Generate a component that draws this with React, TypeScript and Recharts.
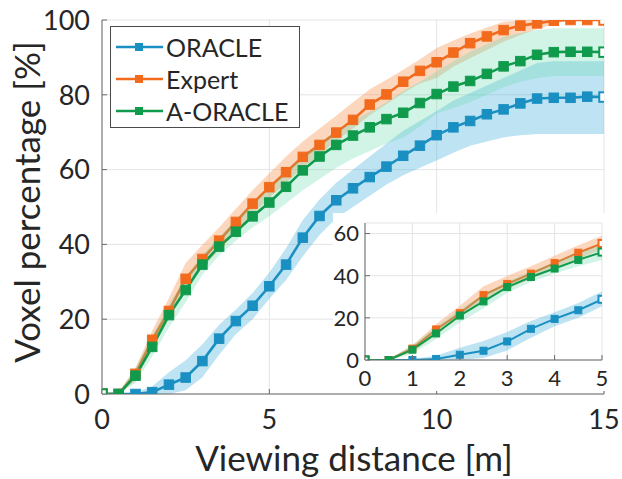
import { ComposedChart, Line, Area, XAxis, YAxis, CartesianGrid } from 'recharts';

// viewing distance in metres, one sample every 0.5 m
const DIST = [0, 0.5, 1, 1.5, 2, 2.5, 3, 3.5, 4, 4.5, 5, 5.5, 6, 6.5, 7, 7.5, 8, 8.5, 9, 9.5, 10, 10.5, 11, 11.5, 12, 12.5, 13, 13.5, 14, 14.5, 15];

// mean voxel percentage per method
const ORACLE = [0, 0, 0, 0.5, 2.5, 4.4, 8.8, 14.8, 19.5, 23.6, 28.8, 34.6, 41.8, 47.6, 51.8, 55, 58, 60.8, 63.7, 66.4, 69.2, 71.3, 73, 74.8, 76.1, 77.7, 79, 79.2, 79.2, 79.5, 79.4];
const EXPERT = [0, 0, 5.4, 14.5, 22.2, 30.8, 36.1, 41, 46, 50.9, 55.3, 59.3, 63.4, 66.6, 69.9, 73.3, 77.4, 80.1, 83.5, 86.4, 88.7, 91.3, 93.8, 95.6, 97.3, 98.5, 99.1, 99.8, 100, 100, 100];
const A_ORACLE = [0, 0, 4.9, 12.6, 21.1, 27.8, 34.6, 39.4, 43.4, 47.5, 51.2, 55.4, 59.8, 63.5, 66.6, 69.1, 71.3, 73.5, 75.2, 77.8, 80.2, 82.2, 83.7, 85.6, 87.6, 89, 90.7, 91.4, 91.5, 91.5, 91.4];

// spread bands (low / high)
const ORACLE_LO = [0, 0, 0, 0, 0, 1, 4.5, 10.5, 16, 20, 25.5, 30.5, 36.8, 42.5, 47, 50, 53, 56, 58.5, 60.5, 62.4, 64.5, 66.4, 67.5, 68.6, 69.2, 69.5, 69.5, 69.5, 69.5, 69.5];
const ORACLE_HI = [0, 0, 0.5, 2, 5.8, 9, 13.3, 18.5, 22.6, 27, 32.5, 39, 46.5, 52, 56.5, 60, 63.5, 67, 70.4, 73, 75.7, 78.5, 80.5, 82.5, 84.5, 86.5, 88.5, 89, 89, 89, 89];
const EXPERT_LO = [0, 0, 3.5, 12, 20, 28.4, 33.7, 38.5, 43.5, 48, 52.5, 56.5, 60.5, 64, 67.7, 71, 74.5, 77.5, 80.5, 83, 84.5, 87.5, 89.8, 92, 94.2, 96, 97.5, 99, 100, 100, 100];
const EXPERT_HI = [0, 0.5, 7, 17, 25.7, 35, 39.9, 44.5, 49.5, 54.5, 59, 63.5, 67.5, 71, 74.4, 78, 81.5, 84, 86.7, 89.5, 92.5, 94.5, 96.4, 98, 99.5, 100, 100, 100, 100, 100, 100];
const A_ORACLE_LO = [0, 0, 3, 10, 17.8, 24.5, 31.9, 37, 41, 44.5, 47.5, 51, 54.5, 57.5, 60.5, 63, 65, 67, 68.6, 71.5, 75, 76.5, 78, 80, 82, 83.5, 84.5, 85, 85, 85, 85];
const A_ORACLE_HI = [0, 0.5, 7, 15.5, 24, 31, 37.2, 42, 46.5, 51, 55, 59.5, 63.5, 67, 70, 73, 75.5, 78, 81, 83.5, 86.3, 89, 91.5, 93.5, 95.5, 96.5, 97.3, 97.8, 97.8, 97.8, 97.8];

const SERIES_NAMES = ['ORACLE', 'Expert', 'A-ORACLE'];
const X_TICKS = [0, 5, 10, 15];
const Y_TICKS = [0, 20, 40, 60, 80, 100];
const INSET_X_TICKS = [0, 1, 2, 3, 4, 5];
const INSET_Y_TICKS = [0, 20, 40, 60];

const BLUE = '#1a8fc2';
const ORANGE = '#f26b1d';
const GREEN = '#109b4c';
const COLORS = [BLUE, ORANGE, GREEN];
const FONT = 'Lato, "Open Sans", sans-serif';
const TEXT = '#262626';
const AXIS = '#6b6b6b';

const rows = DIST.map((d, i) => ({
  d,
  oracle: ORACLE[i],
  expert: EXPERT[i],
  aOracle: A_ORACLE[i],
  oracleBand: [ORACLE_LO[i], ORACLE_HI[i]],
  expertBand: [EXPERT_LO[i], EXPERT_HI[i]],
  aOracleBand: [A_ORACLE_LO[i], A_ORACLE_HI[i]],
}));
const insetRows = rows.filter((r) => r.d <= 5);

// filled square markers, hollow at both ends of a run
const squareDot = (color: string, size: number, last: number) => (props: any) => {
  const { cx, cy, index } = props;
  if (cx == null || cy == null) return <g key={index} />;
  const hollow = index === 0 || index === last;
  return (
    <rect
      key={index}
      x={cx - size / 2}
      y={cy - size / 2}
      width={size}
      height={size}
      fill={hollow ? '#fff' : color}
      stroke={color}
      strokeWidth={hollow ? 2 : 1}
    />
  );
};

// inward ticks with labels
const bottomTick = (len: number, fontSize: number, gap: number) => (props: any) => {
  const { x, y, payload } = props;
  return (
    <g>
      <line x1={x} x2={x} y1={y} y2={y - len} stroke={AXIS} />
      <text x={x} y={y + gap} textAnchor="middle" fontSize={fontSize} fontFamily={FONT} fill={TEXT}>
        {payload.value}
      </text>
    </g>
  );
};
const leftTick = (len: number, fontSize: number, gap: number) => (props: any) => {
  const { x, y, payload } = props;
  return (
    <g>
      <line x1={x} x2={x + len} y1={y} y2={y} stroke={AXIS} />
      <text x={x - gap} y={y} dy="0.36em" textAnchor="end" fontSize={fontSize} fontFamily={FONT} fill={TEXT}>
        {payload.value}
      </text>
    </g>
  );
};
const topTick = (len: number) => (props: any) => (
  <line x1={props.x} x2={props.x} y1={props.y} y2={props.y + len} stroke={AXIS} />
);
const rightTick = (len: number) => (props: any) => (
  <line x1={props.x} x2={props.x - len} y1={props.y} y2={props.y} stroke={AXIS} />
);

const LegendBox = () => (
  <div
    style={{
      position: 'absolute',
      left: 110,
      top: 26,
      border: '1px solid #4a4a4a',
      background: '#fff',
      width: 190,
      height: 102,
      boxSizing: 'border-box',
      paddingTop: 4,
      fontFamily: FONT,
    }}
  >
    {SERIES_NAMES.map((name, i) => (
      <div key={name} style={{ display: 'flex', alignItems: 'center', height: 32 }}>
        <svg width={52} height={20} style={{ marginLeft: 3, flex: 'none' }}>
          <line x1={2} x2={49} y1={10} y2={10} stroke={COLORS[i]} strokeWidth={2.5} />
          <rect x={21} y={6} width={8} height={8} fill={COLORS[i]} />
        </svg>
        <span style={{ fontSize: 25, color: TEXT, lineHeight: 1 }}>{name}</span>
      </div>
    ))}
  </div>
);

type PanelProps = {
  data: typeof rows;
  width: number;
  height: number;
  margin: { top: number; right: number; bottom: number; left: number };
  yAxisWidth: number;
  xAxisHeight: number;
  xDomain: [number, number];
  yDomain: [number, number];
  xTicks: number[];
  yTicks: number[];
  tickFont: number;
  xGap: number;
  yGap: number;
  dotSize: number;
  lineWidth: number;
};

const Panel = (p: PanelProps) => {
  const last = p.data.length - 1;
  const band = (key: string, fill: string, opacity: number, z: number) => (
    <Area
      key={key}
      dataKey={key}
      type="linear"
      stroke="none"
      fill={fill}
      fillOpacity={opacity}
      isAnimationActive={false}
      activeDot={false}
      zIndex={z}
    />
  );
  const line = (key: string, color: string, z: number) => (
    <Line
      key={key}
      dataKey={key}
      type="linear"
      stroke={color}
      strokeWidth={p.lineWidth}
      dot={squareDot(color, p.dotSize, last)}
      activeDot={false}
      isAnimationActive={false}
      zIndex={z}
    />
  );
  return (
    <ComposedChart width={p.width} height={p.height} data={p.data} margin={p.margin}>
      <CartesianGrid stroke="#e4e4e4" strokeWidth={1} />
      <XAxis
        dataKey="d"
        type="number"
        domain={p.xDomain}
        ticks={p.xTicks}
        height={p.xAxisHeight}
        axisLine={{ stroke: AXIS }}
        tickLine={false}
        tickSize={0}
        tickMargin={0}
        tick={bottomTick(5, p.tickFont, p.xGap)}
        interval={0}
        allowDataOverflow
      />
      <XAxis
        xAxisId="top"
        orientation="top"
        dataKey="d"
        type="number"
        domain={p.xDomain}
        ticks={p.xTicks}
        height={0}
        axisLine={{ stroke: AXIS }}
        tickLine={false}
        tickSize={0}
        tickMargin={0}
        tick={topTick(5)}
        interval={0}
        allowDataOverflow
      />
      <YAxis
        type="number"
        domain={p.yDomain}
        ticks={p.yTicks}
        width={p.yAxisWidth}
        axisLine={{ stroke: AXIS }}
        tickLine={false}
        tickSize={0}
        tickMargin={0}
        tick={leftTick(5, p.tickFont, p.yGap)}
        interval={0}
        allowDataOverflow
      />
      <YAxis
        yAxisId="right"
        orientation="right"
        type="number"
        domain={p.yDomain}
        ticks={p.yTicks}
        width={0}
        axisLine={{ stroke: AXIS }}
        tickLine={false}
        tickSize={0}
        tickMargin={0}
        tick={rightTick(5)}
        interval={0}
        allowDataOverflow
      />
      {band('oracleBand', '#55b8e0', 0.38, 101)}
      {line('oracle', BLUE, 102)}
      {band('expertBand', '#f89a5c', 0.4, 103)}
      {line('expert', ORANGE, 104)}
      {band('aOracleBand', '#5fd9a8', 0.28, 105)}
      {line('aOracle', GREEN, 106)}
    </ComposedChart>
  );
};

export default function App() {
  return (
    <div style={{ position: 'absolute', left: 0, top: 0, width: 622, height: 479, background: '#fff' }}>
      <Panel
        data={rows}
        width={622}
        height={479}
        margin={{ top: 20, right: 18, bottom: 0, left: 0 }}
        yAxisWidth={102}
        xAxisHeight={85}
        xDomain={[0, 15]}
        yDomain={[0, 100]}
        xTicks={X_TICKS}
        yTicks={Y_TICKS}
        tickFont={27}
        xGap={35}
        yGap={12}
        dotSize={9.5}
        lineWidth={2.6}
      />
      <LegendBox />
      <svg width={622} height={479} style={{ position: 'absolute', left: 0, top: 0, pointerEvents: 'none' }}>
        <text x={354} y={471} textAnchor="middle" fontSize={35} fontFamily={FONT} fill={TEXT}>
          Viewing distance [m]
        </text>
        <text
          x={40}
          y={202}
          textAnchor="middle"
          fontSize={35}
          fontFamily={FONT}
          fill={TEXT}
          transform="rotate(-90 40 202)"
        >
          Voxel percentage [%]
        </text>
      </svg>
      <div style={{ position: 'absolute', left: 333, top: 213, width: 274, height: 178, background: '#fff' }} />
      <div style={{ position: 'absolute', left: 333, top: 213 }}>
        <Panel
          data={insetRows}
          width={290}
          height={178}
          margin={{ top: 10, right: 21, bottom: 0, left: 0 }}
          yAxisWidth={32}
          xAxisHeight={31}
          xDomain={[0, 5]}
          yDomain={[0, 65]}
          xTicks={INSET_X_TICKS}
          yTicks={INSET_Y_TICKS}
          tickFont={22}
          xGap={26}
          yGap={6}
          dotSize={7}
          lineWidth={2}
        />
      </div>
    </div>
  );
}
